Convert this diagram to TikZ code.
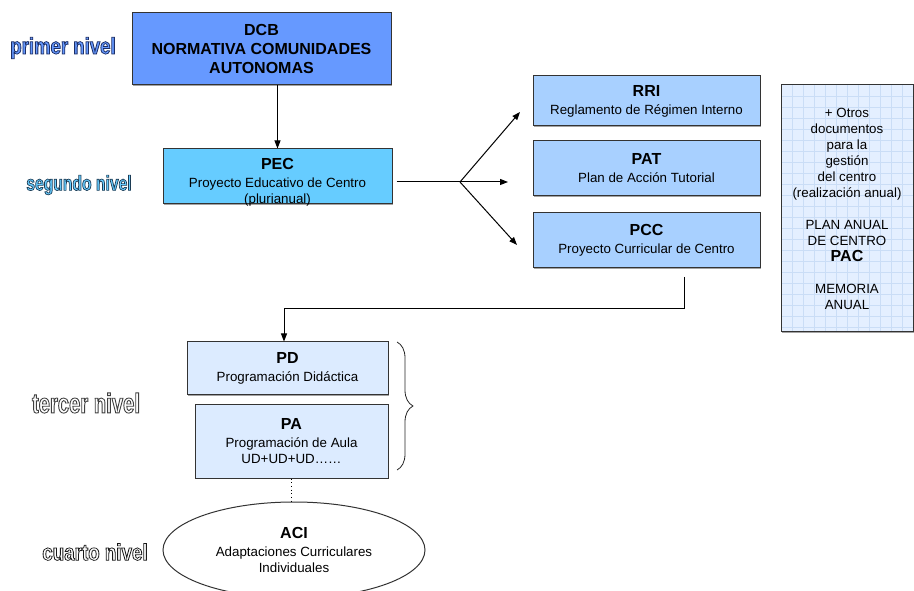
\documentclass[tikz,border=0pt]{standalone}
\usepackage{fontspec}
\setmainfont{Liberation Sans}
\newfontfamily\nivelfont{Liberation Sans}[FakeStretch=0.66]
\usepackage{graphicx}
\usetikzlibrary{arrows.meta,decorations.pathreplacing,shapes.geometric,shadows}
\definecolor{dcbblue}{HTML}{6699FF}
\definecolor{pecblue}{HTML}{66CCFF}
\definecolor{docblue}{HTML}{A8D0FF}
\definecolor{palblue}{HTML}{DCEBFF}
\definecolor{gridbg}{HTML}{E4EFFF}
\definecolor{gridln}{HTML}{CADDF6}
\tikzset{%
  tipD/.tip={Triangle[length=6pt,width=4.5pt]},
  doc/.style={draw=black!80, line width=0.75pt, align=center, inner sep=0pt,
    font=\fontsize{10}{12}\selectfont},
  docbox/.style={doc, drop shadow={shadow xshift=0.75pt, shadow yshift=-0.75pt, fill=black!45, opacity=0.8}},
  link/.style={black, line width=0.75pt, -tipD},
  gridline/.style={gridln, line width=0.4pt}
}
\newcommand{\tit}[1]{{\fontsize{12}{14}\selectfont\bfseries #1}}
% width, height, outline (rgb), fill colour, text
\newcommand{\nivel}[5]{\resizebox{#1}{#2}{\nivelfont\bfseries\color{#4}%
  \special{pdf:literal #3 RG 2 Tr 0.3 w}#5\special{pdf:literal 0 Tr}}}

\begin{document}
\begin{tikzpicture}[x=0.75pt,y=-0.75pt]
\useasboundingbox (0,0) rectangle (914,591);
% level names
\node (lvl1) at (63,48) {\nivel{79pt}{12.5pt}{0.11 0.18 0.4}{dcbblue}{primer nivel}};
\node (lvl2) at (79,185) {\nivel{79pt}{11.5pt}{0.11 0.23 0.33}{pecblue}{segundo nivel}};
\node (lvl3) at (86,403) {\nivel{81pt}{15pt}{0.25 0.25 0.25}{white}{tercer nivel}};
\node (lvl4) at (95,552) {\nivel{79pt}{12.5pt}{0.1 0.1 0.1}{white}{cuarto nivel}};
% first and second level
\node[docbox, fill=dcbblue, minimum width=194.25pt, minimum height=54pt,
  font=\fontsize{12}{14.6}\selectfont\bfseries] (dcb) at (261.5,49)
  {DCB\\NORMATIVA COMUNIDADES\\AUTONOMAS};
\node[docbox, fill=pecblue, minimum width=171.75pt, minimum height=41.25pt,
  text height=40pt, text depth=0pt] (pec) at (277.5,176.5)
  {\tit{PEC}\\[1.5pt]Proyecto Educativo de Centro\\(plurianual)};
\node[docbox, fill=docblue, minimum width=170.25pt, minimum height=37.5pt] (rri) at (646.5,101)
  {\tit{RRI}\\[1.5pt]Reglamento de Régimen Interno};
\node[docbox, fill=docblue, minimum width=170.25pt, minimum height=41.25pt] (pat) at (646.5,168.5)
  {\tit{PAT}\\[1.5pt]Plan de Acción Tutorial};
\node[docbox, fill=docblue, minimum width=170.25pt, minimum height=41.25pt] (pcc) at (646.5,240.5)
  {\tit{PCC}\\[1.5pt]Proyecto Curricular de Centro};
% annual documents
\node[docbox, fill=gridbg, minimum width=99pt, minimum height=185.25pt,
  path picture={
    \foreach \k in {1,...,11}
      \draw[gridline] ([xshift=\k*8.25pt]path picture bounding box.north west) -- ([xshift=\k*8.25pt]path picture bounding box.south west);
    \foreach \k in {1,...,22}
      \draw[gridline] ([yshift=-\k*8.25pt]path picture bounding box.north west) -- ([yshift=-\k*8.25pt]path picture bounding box.north east);
  }] (otros) at (847,208.5)
  {+ Otros\\documentos\\para la\\gestión\\del centro\\(realización anual)\\[12pt]PLAN ANUAL\\DE CENTRO\\\tit{PAC}\\[12pt]MEMORIA\\ANUAL};
% third and fourth level
\node[docbox, fill=palblue, minimum width=150.75pt, minimum height=39.75pt] (pd) at (287.5,368.5)
  {\tit{PD}\\[1.5pt]Programación Didáctica};
\node[docbox, fill=palblue, minimum width=144.75pt, minimum height=54.75pt] (pa) at (291.5,441.5)
  {\tit{PA}\\[1.5pt]Programación de Aula\\UD+UD+UD……};
\node[doc, ellipse, fill=white, minimum width=196.5pt, minimum height=72pt] (aci) at (294,550)
  {\tit{ACI}\\[1.5pt]Adaptaciones Curriculares\\Individuales};
% connectors
\coordinate (fork) at (460,182);
\coordinate (pecout) at ([xshift=3pt]pec.east);
\coordinate (rriin) at (520,112);
\coordinate (patin) at (508,182);
\coordinate (pccin) at (517,245);
\coordinate (pccout) at (684,277);
\coordinate (bend) at (284,309);
\draw[link] (dcb.south -| pec.north) -- (pec.north);
\draw[black, line width=0.75pt] (pecout |- fork) -- (fork);
\draw[link] (fork) -- (rriin);
\draw[link] (fork) -- (patin);
\draw[link] (fork) -- (pccin);
\draw[link] (pccout) |- (bend) -- (bend |- pd.north);
\draw[black, line width=0.75pt, dotted] (pa.south) -- (pa.south |- aci.north);
\draw[black!85, line width=0.6pt, decorate, decoration={brace, amplitude=12pt}] (397,342) -- (397,470);
\end{tikzpicture}
\end{document}
